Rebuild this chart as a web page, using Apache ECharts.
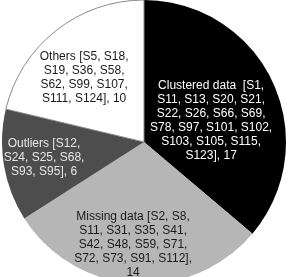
<!DOCTYPE html>
<html>
<head>
<meta charset="utf-8">
<script src="https://cdn.jsdelivr.net/npm/echarts@6/dist/echarts.min.js"></script>
<style>html,body{margin:0;padding:0;background:#fff}#c{width:288px;height:277px}</style>
</head>
<body>
<div id="c"></div>
<script>
const categories = ['Clustered data', 'Missing data', 'Outliers', 'Others'];
const values = [17, 14, 6, 10];
const labelTemplates = [
  'Clustered data  [S1,\nS11, S13, S20, S21,\nS22, S26, S66, S69,\nS78, S97, S101, S102,\nS103, S105, S115,\nS123], {c}',
  'Missing data [S2, S8,\nS11, S31, S35, S41,\nS42, S48, S59, S71,\nS72, S73, S91, S112],\n{c}',
  'Outliers [S12,\nS24, S25, S68,\nS93, S95], {c}',
  'Others [S5, S18,\nS19, S36, S58,\nS62, S99, S107,\nS111, S124], {c}'
];
const colors = ['#000000', '#b6b6b6', '#4d4d4d', '#ffffff'];
const textColors = ['#ffffff', '#1a1a1a', '#e6e6e6', '#1a1a1a'];
const labelOffsets = [[0, 10], [-6, 29], [-27, 3], [-14, -6]];

const chart = echarts.init(document.getElementById('c'), null, {renderer: 'canvas'});
chart.setOption({
  animation: false,
  series: [{
    type: 'pie',
    center: [144, 142],
    radius: 142,
    startAngle: 90,
    clockwise: true,
    avoidLabelOverlap: false,
    label: {
      show: true,
      position: 'inside',
      fontFamily: 'Liberation Sans, Arial, sans-serif',
      fontSize: 12,
      lineHeight: 14,
      align: 'center'
    },
    labelLine: {show: false},
    emphasis: {disabled: true},
    data: categories.map((name, i) => ({
      name: name,
      value: values[i],
      itemStyle: {
        color: colors[i],
        borderColor: i === 3 ? '#8a8a8a' : colors[i],
        borderWidth: i === 3 ? 1 : 0
      },
      label: {
        formatter: labelTemplates[i],
        color: textColors[i],
        offset: labelOffsets[i]
      }
    }))
  }]
});
</script>
</body>
</html>
